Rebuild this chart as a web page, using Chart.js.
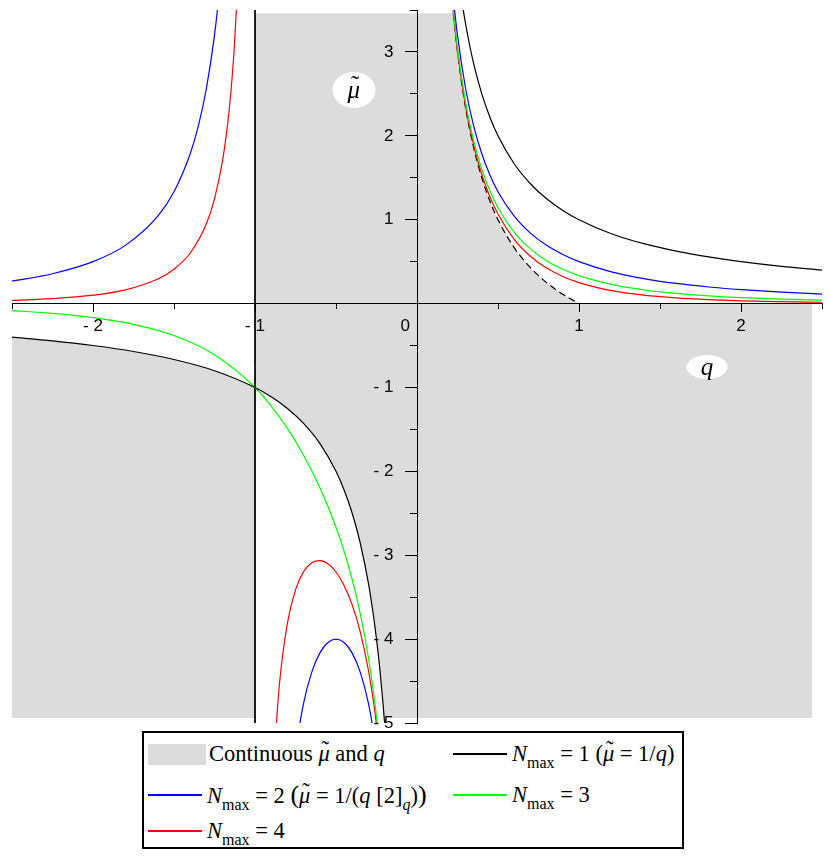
<!DOCTYPE html>
<html>
<head>
<meta charset="utf-8">
<script src="https://cdn.jsdelivr.net/npm/chart.js@4.4.1/dist/chart.umd.min.js"></script>
<style>
html,body{margin:0;padding:0;background:#fff;}
#page{position:relative;width:830px;height:856px;overflow:hidden;background:#fff;}
#wrap{position:absolute;left:0;top:-5px;width:830px;height:743px;}
#wrap canvas{position:absolute;left:0;top:0;}
.axlab{position:absolute;background:#fff;border-radius:50%;display:flex;align-items:center;justify-content:center;font-family:'Liberation Serif',serif;font-style:italic;color:#000;transform:translate(-50%,-50%);}
#legend{position:absolute;left:142px;top:731px;width:538px;height:114px;border:2px solid #000;background:#fff;font-family:'Liberation Serif',serif;font-size:22.5px;color:#000;}
.item{position:absolute;height:30px;display:flex;align-items:center;white-space:nowrap;}
.sw{display:inline-block;flex:none;}
.sub{font-size:16px;position:relative;top:7px;}
.mu{position:relative;display:inline-block;font-style:italic;}
.til{position:absolute;left:0.14em;top:-0.2em;font-style:normal;}
</style>
</head>
<body>
<div id="page">
  <div id="wrap">
    <canvas id="c" width="830" height="743"></canvas>
    <div id="lblMu" class="axlab" style="width:43px;height:36px;font-size:25px;"><span class="mu">μ<span class="til">˜</span></span></div>
    <div id="lblQ" class="axlab" style="width:41px;height:24px;font-size:25px;">q</div>
  </div>
  <div id="legend"></div>
</div>
<script>
// ---------- axis ranges ----------
const X_RANGE = [-2.5, 2.5];
const Y_RANGE = [-5, 3.5];

// ---------- N_max = 1 : black ----------
const qN1Neg  = [-2.5,-2.25,-2,-1.75,-1.5,-1.25,-1,-0.9,-0.8,-0.7,-0.6,-0.5,-0.45,-0.4,-0.35,-0.3,-0.27,-0.25,-0.23,-0.21,-0.2,-0.19];
const muN1Neg = [-0.4,-0.444,-0.5,-0.571,-0.667,-0.8,-1,-1.111,-1.25,-1.429,-1.667,-2,-2.222,-2.5,-2.857,-3.333,-3.704,-4,-4.348,-4.762,-5,-5.263];
const qN1Pos  = [0.25,0.28,0.3,0.35,0.4,0.45,0.5,0.6,0.7,0.8,0.9,1,1.2,1.4,1.6,1.8,2,2.25,2.5];
const muN1Pos = [4,3.571,3.333,2.857,2.5,2.222,2,1.667,1.429,1.25,1.111,1,0.833,0.714,0.625,0.556,0.5,0.444,0.4];

// ---------- N_max = 2 : blue ----------
const qN2Left  = [-2.5,-2.25,-2,-1.8,-1.6,-1.5,-1.4,-1.35,-1.3,-1.25,-1.22,-1.2];
const muN2Left = [0.267,0.356,0.5,0.694,1.042,1.333,1.786,2.116,2.564,3.2,3.726,4.167];
const qN2Mid   = [-0.76,-0.75,-0.7,-0.65,-0.6,-0.55,-0.5,-0.45,-0.4,-0.35,-0.3,-0.25,-0.24];
const muN2Mid  = [-5.482,-5.333,-4.762,-4.396,-4.167,-4.04,-4,-4.04,-4.167,-4.396,-4.762,-5.333,-5.482];
const qN2Pos   = [0.2,0.22,0.25,0.3,0.35,0.4,0.45,0.5,0.6,0.7,0.8,0.9,1,1.2,1.4,1.6,1.8,2,2.25,2.5];
const muN2Pos  = [4.167,3.726,3.2,2.564,2.116,1.786,1.533,1.333,1.042,0.84,0.694,0.585,0.5,0.379,0.298,0.24,0.198,0.167,0.137,0.114];

// ---------- N_max = 3 : green ----------
const qN3Neg  = [-2.5,-2.25,-2,-1.75,-1.5,-1.25,-1,-0.9,-0.8,-0.7,-0.6,-0.5,-0.45,-0.4,-0.35,-0.3,-0.27,-0.25,-0.23,-0.2];
const muN3Neg = [-0.084,-0.117,-0.167,-0.247,-0.381,-0.61,-1,-1.221,-1.488,-1.808,-2.193,-2.667,-2.953,-3.289,-3.699,-4.219,-4.613,-4.923,-5.284,-5.952];
const qN3Pos  = [0.2,0.22,0.25,0.3,0.35,0.4,0.45,0.5,0.6,0.7,0.8,0.9,1,1.2,1.4,1.6,1.8,2,2.25,2.5];
const muN3Pos = [4.032,3.583,3.048,2.398,1.94,1.603,1.345,1.143,0.85,0.652,0.512,0.41,0.333,0.229,0.164,0.121,0.092,0.071,0.053,0.041];

// ---------- N_max = 4 : red ----------
const qN4Left  = [-2.5,-2.25,-2,-1.8,-1.6,-1.5,-1.4,-1.3,-1.25,-1.2,-1.17,-1.15,-1.13,-1.11,-1.1];
const muN4Left = [0.037,0.059,0.1,0.164,0.293,0.41,0.603,0.953,1.249,1.708,2.122,2.496,2.99,3.669,4.114];
const qN4Mid   = [-0.88,-0.85,-0.8,-0.75,-0.7,-0.65,-0.6,-0.55,-0.5,-0.45,-0.4,-0.35,-0.3,-0.27,-0.25,-0.22];
const muN4Mid  = [-5.337,-4.553,-3.811,-3.413,-3.196,-3.09,-3.064,-3.102,-3.2,-3.36,-3.592,-3.916,-4.369,-4.729,-5.02,-5.558];
const qN4Pos   = [0.2,0.22,0.25,0.3,0.35,0.4,0.45,0.5,0.6,0.7,0.8,0.9,1,1.2,1.4,1.6,1.8,2,2.25,2.5];
const muN4Pos  = [4.006,3.554,3.012,2.352,1.885,1.539,1.274,1.067,0.766,0.564,0.423,0.323,0.25,0.155,0.101,0.068,0.047,0.033,0.023,0.016];

// ---------- boundary of continuous region (dashed) ----------
const qEdge  = [0.224,0.25,0.3,0.35,0.4,0.45,0.5,0.6,0.7,0.8,0.9,1];
const muEdge = [3.46,3,2.333,1.857,1.5,1.222,1,0.667,0.429,0.25,0.111,0];

// ---------- shaded region limits ----------
const shadeQ  = [-2.5, -1, 0, 2.44];     // left edge, q=-1 divide, q=0, right edge
const shadeMu = [-4.94, 3.46];           // bottom, top
const shadeBlackEnd = -0.2024;           // where 1/q meets bottom of shading

// tick labels / axis label anchors
const xTickValues = [-2,-1,0,1,2];
const yTickValues = [-5,-4,-3,-2,-1,1,2,3];
const muLabelAt = [-0.39, 2.55];
const qLabelAt  = [1.79, -0.75];

// ---------- colours ----------
const C_N1 = '#000000', C_N2 = '#0000ff', C_N3 = '#00ff00', C_N4 = '#ff0000', C_SHADE = '#dcdcdc';

function pts(qs, mus) { return qs.map((q, i) => ({x: q, y: mus[i]})); }
function curve(data, color, extra) {
  return Object.assign({data, borderColor: color, backgroundColor: color, borderWidth: 1.2, pointRadius: 0,
    showLine: true, fill: false, cubicInterpolationMode: 'monotone', order: 1}, extra || {});
}
function shade(data, fill) {
  return {data, showLine: true, borderWidth: 0, borderColor: 'rgba(0,0,0,0)', backgroundColor: C_SHADE,
    pointRadius: 0, fill, cubicInterpolationMode: 'monotone', order: 5};
}

// shaded polygons built from the arrays above
const shadeUpper = [{x: shadeQ[1], y: shadeMu[1]}, {x: shadeQ[2], y: shadeMu[1]}].concat(pts(qEdge, muEdge));
const shadeLowLeft = pts(qN1Neg, muN1Neg).filter(p => p.x <= shadeQ[1]);
const shadeLowMid = pts(qN1Neg, muN1Neg).filter(p => p.x >= shadeQ[1] && p.y >= shadeMu[0])
  .concat([{x: shadeBlackEnd, y: shadeMu[0]}, {x: shadeQ[2], y: shadeMu[0]}]);
const shadeLowRight = [{x: shadeQ[2], y: shadeMu[0]}, {x: shadeQ[3], y: shadeMu[0]}];

const datasets = [
  curve(pts(qN1Neg, muN1Neg), C_N1),
  curve(pts(qN1Pos, muN1Pos), C_N1),
  curve(pts(qN2Left, muN2Left), C_N2),
  curve(pts(qN2Mid, muN2Mid), C_N2),
  curve(pts(qN2Pos, muN2Pos), C_N2),
  curve(pts(qN3Neg, muN3Neg), C_N3),
  curve(pts(qN3Pos, muN3Pos), C_N3),
  curve(pts(qN4Left, muN4Left), C_N4),
  curve(pts(qN4Mid, muN4Mid), C_N4),
  curve(pts(qN4Pos, muN4Pos), C_N4),
  curve(pts(qEdge, muEdge), C_N1, {borderDash: [7, 4]}),
  curve([{x: shadeQ[1], y: Y_RANGE[1]}, {x: shadeQ[1], y: Y_RANGE[0]}], C_N1, {cubicInterpolationMode: 'default', tension: 0, borderWidth: 1}),
  shade(shadeUpper, 'origin'),
  shade(shadeLowLeft, {value: shadeMu[0]}),
  shade(shadeLowMid, 'origin'),
  shade(shadeLowRight, 'origin')
];

const GAP = '     '; // keeps labels clear of the axis line they sit on
function fmt(v) { return v < 0 ? '- ' + (-v) : String(v); }
const tickFont = {family: "'Liberation Sans', Arial, sans-serif", size: 17, lineHeight: '20px'};
const keepValues = (vals) => (s) => { s.ticks = s.ticks.filter(t => vals.includes(t.value)); };

const labelPlugin = {
  id: 'axisLabels',
  afterDraw(chart) {
    const xs = chart.scales.x, ys = chart.scales.y;
    const put = (id, at) => {
      const el = document.getElementById(id);
      el.style.left = xs.getPixelForValue(at[0]) + 'px';
      el.style.top = ys.getPixelForValue(at[1]) + 'px';
    };
    put('lblMu', muLabelAt);
    put('lblQ', qLabelAt);
  }
};

function axisOpts(axis, range, posKey, tickLen, showLabels, values, cb) {
  const o = {
    type: 'linear', axis, min: range[0], max: range[1], position: {[posKey]: 0},
    ticks: {stepSize: 0.5, autoSkip: false, maxRotation: 0, display: showLabels, z: 3,
      padding: 5, color: '#000', font: tickFont},
    grid: {drawOnChartArea: false, drawTicks: true, tickLength: tickLen, color: '#000', tickWidth: 1, z: 3},
    border: {display: showLabels, color: '#000', width: 1, z: 3}
  };
  if (values) o.afterBuildTicks = keepValues(values);
  if (cb) o.ticks.callback = cb;
  return o;
}

new Chart(document.getElementById('c'), {
  type: 'scatter',
  data: {datasets},
  plugins: [labelPlugin],
  options: {
    responsive: false,
    animation: false,
    events: [],
    layout: {padding: {left: 12, right: 8, top: 0, bottom: 0}},
    plugins: {legend: {display: false}, tooltip: {enabled: false}, title: {display: false}},
    scales: {
      x:  axisOpts('x', X_RANGE, 'y', 8, true, xTickValues, v => v === 0 ? '0' + GAP : fmt(v)),
      x2: axisOpts('x', X_RANGE, 'y', 5, false, null, null),
      y:  axisOpts('y', Y_RANGE, 'x', 12, true, yTickValues, v => fmt(v) + GAP),
      y2: axisOpts('y', Y_RANGE, 'x', 7, false, null, null)
    }
  }
});

// ---------- legend (HTML so subscripts stay real text) ----------
const NMAX = '<i>N</i><span class="sub">max</span>';
const MU = '<span class="mu">μ<span class="til">˜</span></span>';
const legendEntries = [
  {row: 0, col: 0, kind: 'box',  color: C_SHADE, html: 'Continuous ' + MU + ' and <i>q</i>'},
  {row: 0, col: 1, kind: 'line', color: C_N1, html: NMAX + '&nbsp;= 1 (' + MU + ' = 1/<i>q</i>)'},
  {row: 1, col: 0, kind: 'line', color: C_N2, html: NMAX + '&nbsp;= 2 <span style="font-size:26px">(</span>' + MU + ' = 1/(<i>q</i> [2]<span class="sub"><i>q</i></span>)<span style="font-size:26px">)</span>'},
  {row: 1, col: 1, kind: 'line', color: C_N3, html: NMAX + '&nbsp;= 3'},
  {row: 2, col: 0, kind: 'line', color: C_N4, html: NMAX + '&nbsp;= 4'}
];
const legendRowCenters = [21, 62, 98];
const legendColLefts = [4, 309];
const legendEl = document.getElementById('legend');
legendEntries.forEach(e => {
  const d = document.createElement('div');
  d.className = 'item';
  d.style.left = legendColLefts[e.col] + 'px';
  d.style.top = (legendRowCenters[e.row] - 15) + 'px';
  const sw = e.kind === 'box'
    ? '<span class="sw" style="width:58px;height:21px;background:' + e.color + ';margin-right:3px"></span>'
    : '<span class="sw" style="width:54px;height:1.4px;background:' + e.color + ';margin-right:5px"></span>';
  d.innerHTML = sw + '<span>' + e.html + '</span>';
  legendEl.appendChild(d);
});
</script>
</body>
</html>
